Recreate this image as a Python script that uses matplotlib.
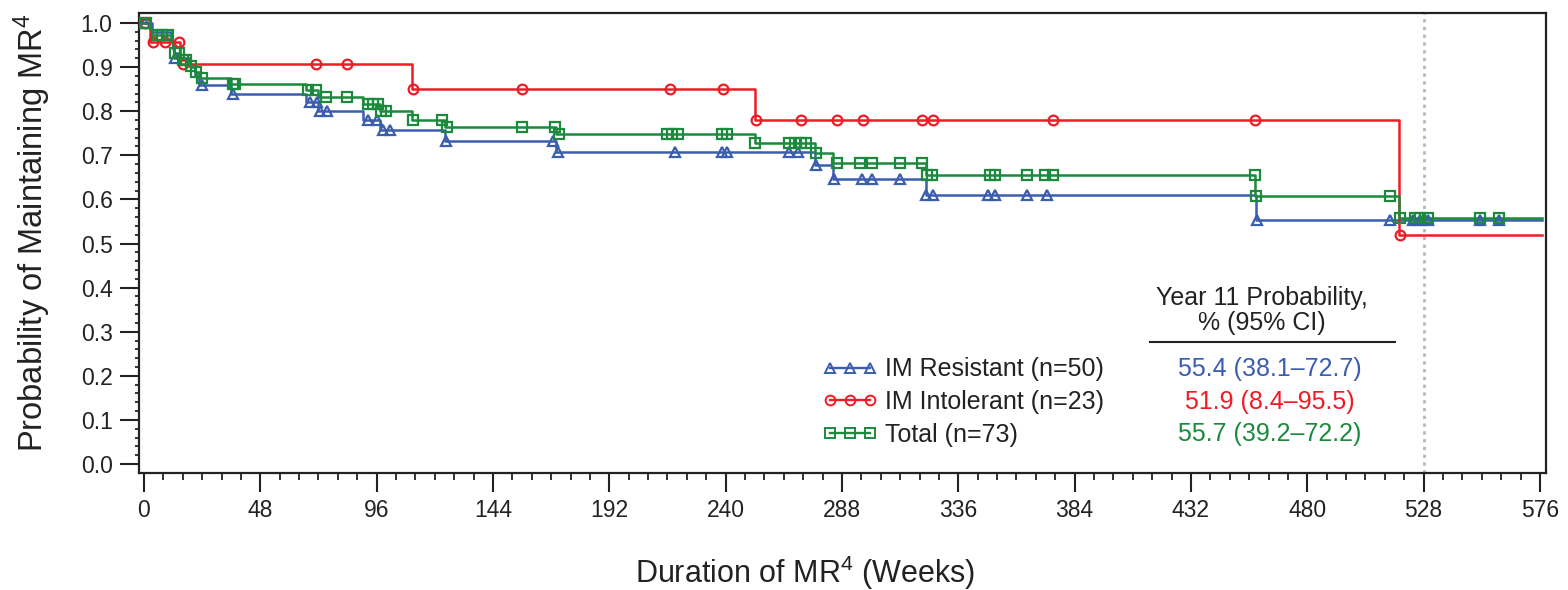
import numpy as np
import matplotlib.pyplot as plt

plt.rcParams['font.family'] = ['Liberation Sans', 'DejaVu Sans']
plt.rcParams['mathtext.fontset'] = 'custom'
plt.rcParams['mathtext.rm'] = 'Liberation Sans'
plt.rcParams['mathtext.it'] = 'Liberation Sans:italic'

# Kaplan-Meier steps: event times (weeks) and survival after each event
res_t = [0, 3.2, 11.2, 11.8, 12.4, 19.0, 21.0, 22.8, 36.0, 67.0, 71.8, 90.5, 97.5,
         124.0, 170.0, 277.0, 284.5, 322.5, 459.0]
res_s = [1.0, 0.98, 0.96, 0.94, 0.92, 0.90, 0.88, 0.86, 0.84, 0.82, 0.80, 0.78, 0.757,
         0.733, 0.708, 0.678, 0.646, 0.61, 0.554]
res_cens = [0.4, 12.6, 23.8, 36.9, 68.5, 71.5, 72.6, 75.6, 92.6, 96.0, 98.7, 101.5,
            124.6, 168.8, 171.0, 219.0, 238.4, 240.4, 266.0, 270.0, 277.2, 284.8,
            296.1, 300.2, 311.9, 322.7, 325.4, 348.4, 351.1, 364.2, 372.4, 459.2,
            514.1, 523.7, 526.5, 529.9, 551.3, 559.2]

int_t = [0, 2.5, 15.0, 110.5, 252.0, 518.0]
int_s = [1.0, 0.957, 0.906, 0.85, 0.779, 0.519]
int_cens = [0.5, 3.8, 8.7, 14.6, 16.2, 71.0, 83.6, 111.0, 155.8, 217.0, 239.0, 252.5,
            271.0, 286.0, 296.5, 321.0, 325.4, 375.2, 458.4, 518.3]

tot_t = [0, 2.5, 3.2, 11.2, 11.8, 12.4, 15.0, 19.0, 21.0, 22.8, 36.0, 67.0, 71.8, 90.5,
         97.5, 110.5, 124.0, 170.0, 252.0, 277.0, 284.5, 322.5, 458.6, 518.0]
tot_s = [1.0, 0.986, 0.973, 0.959, 0.945, 0.931, 0.917, 0.903, 0.889, 0.875, 0.861,
         0.847, 0.832, 0.817, 0.80, 0.78, 0.765, 0.748, 0.727, 0.705, 0.683, 0.655,
         0.607, 0.557]
tot_cens = [0.3, 1.0, 5.2, 7.3, 10.0, 13.0, 14.6, 16.2, 17.5, 19.5, 21.5, 23.8, 36.9,
            37.6, 67.8, 71.0, 75.0, 83.6, 92.4, 94.5, 96.5, 98.0, 99.8, 111.0, 122.8,
            124.9, 155.8, 169.6, 171.2, 215.6, 218.0, 220.4, 238.4, 240.4, 252.3,
            266.0, 268.6, 271.0, 273.0, 277.2, 285.8, 295.4, 300.2, 311.9, 320.9,
            323.0, 325.0, 349.0, 351.1, 364.2, 371.8, 375.2, 458.4, 459.0, 514.1,
            518.3, 524.4, 526.5, 529.9, 551.3, 559.2]

labels = ['IM Resistant (n=50)', 'IM Intolerant (n=23)', 'Total (n=73)']
year11 = ['55.4 (38.1\u201372.7)', '51.9 (8.4\u201395.5)', '55.7 (39.2\u201372.2)']
colors = ['#3a5dae', '#ee1c25', '#1b8a3c']
markers = ['^', 'o', 's']
t_end = 577.0

fig = plt.figure(figsize=(15.68, 5.90), dpi=100)
ax = fig.add_axes([139 / 1568, 1 - 473 / 590, 1407 / 1568, 460 / 590])

# year-11 reference line
ax.axvline(528, color='#b8b8b8', lw=2, ls=(0, (1.2, 1.6)), zorder=1)

handles = []
series = [(res_t, res_s, res_cens), (int_t, int_s, int_cens), (tot_t, tot_s, tot_cens)]
for (t, s, c), col, mk, lab in zip(series, colors, markers, labels):
    t = np.array(t + [t_end])
    s = np.array(s + [s[-1]])
    ax.step(t, s, where='post', color=col, lw=1.8, zorder=3)
    c = np.array(c)
    cs = s[np.searchsorted(t, c, side='right') - 1]
    ax.plot(c, cs, ls='none', marker=mk, ms=7.5 if mk == '^' else 7,
            mfc='none', mec=col, mew=1.6, zorder=4)
    h, = ax.plot([], [], color=col, lw=1.7, marker=mk, ms=7, mfc='none', mec=col,
                 mew=1.4, label=lab)
    handles.append(h)

ax.set_xlim(-2.06, 578.5)
ax.set_ylim(-0.0204, 1.0227)
ax.set_xticks(np.arange(0, 577, 48))
ax.set_xticks(np.arange(0, 577, 8), minor=True)
ax.set_yticks(np.arange(0, 1.01, 0.1))
ax.set_yticks(np.arange(0, 1.001, 0.02), minor=True)
ax.set_yticklabels([f'{v:.1f}' for v in np.arange(0, 1.01, 0.1)])

for sp in ax.spines.values():
    sp.set_linewidth(1.6)
    sp.set_color('#222222')
ax.tick_params(which='major', length=14, width=1.5, labelsize=16.5, colors='#222222',
               pad=5)
ax.tick_params(axis='x', which='minor', length=5, width=1.3, color='#222222')
ax.tick_params(axis='y', which='minor', length=3, width=1.3, color='#222222')

fig.text(32 / 1568, 1 - 233 / 590, 'Probability of Maintaining MR$^4$', rotation=90,
         ha='center', va='center', fontsize=23.5, color='#222222')
fig.text(805 / 1568, 1 - 573 / 590, 'Duration of MR$^4$ (Weeks)', ha='center',
         va='center', fontsize=22, color='#222222')

leg = ax.legend(handles=handles, loc='center left', frameon=False, numpoints=3,
                handlelength=2.2, handletextpad=0.3, labelspacing=0.35, fontsize=18,
                borderpad=0, borderaxespad=0,
                bbox_to_anchor=((822 - 139) / 1407, 1 - (402 - 13) / 460))
for txt in leg.get_texts():
    txt.set_color('#222222')

# year-11 probability column
fig.text(1262 / 1568, 1 - 298 / 590, 'Year 11 Probability,', ha='center', va='center',
         fontsize=18, color='#222222')
fig.text(1262 / 1568, 1 - 323 / 590, '% (95% CI)', ha='center', va='center',
         fontsize=18, color='#222222')
fig.add_artist(plt.Line2D([1150 / 1568, 1395 / 1568], [1 - 342 / 590, 1 - 342 / 590],
                          color='#222222', lw=1.5))
for i, (txt, col) in enumerate(zip(year11, colors)):
    fig.text(1270 / 1568, 1 - (369 + 32.5 * i) / 590, txt, ha='center', va='center',
             fontsize=18, color=col)

fig.savefig('out.png', dpi=100)
